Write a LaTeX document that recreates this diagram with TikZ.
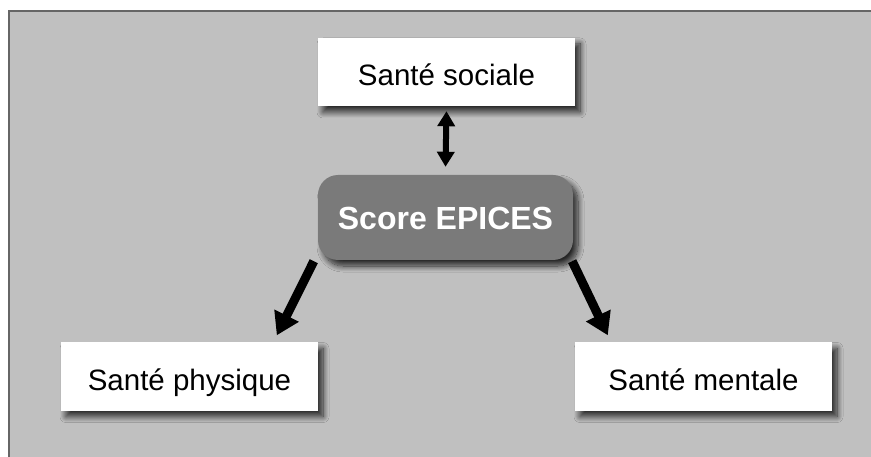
\documentclass[tikz,border=0pt]{standalone}
\usepackage{fontspec}
\setmainfont{Liberation Sans}
\usetikzlibrary{arrows.meta,shadows.blur}
\definecolor{panel}{RGB}{192,192,192}
\definecolor{scorefill}{RGB}{122,122,122}
\tikzset{
  softshadow/.style={blur shadow={shadow xshift=5pt, shadow yshift=-6pt,
    shadow blur steps=12, shadow blur radius=6pt, shadow opacity=80}},
  healthbox/.style={draw=none, fill=white, minimum width=257pt, minimum height=68pt,
    inner sep=0pt, text height=28pt, text depth=0pt,
    font=\fontsize{29.5}{32}\selectfont, softshadow},
  scorebox/.style={draw=none, fill=scorefill, rounded corners=20pt, minimum width=255pt,
    minimum height=85pt, inner sep=0pt, text height=25pt, text depth=0pt,
    text=white, font=\bfseries\fontsize{32}{36}\selectfont, softshadow},
  bigarrow/.style={line width=9pt, -{Triangle[width=26pt,length=22pt]}},
  dblarrow/.style={line width=6pt, {Triangle[width=17pt,length=15pt]}-{Triangle[width=17pt,length=15pt]}}
}
\begin{document}
\begin{tikzpicture}[x=1pt,y=-1pt]
\useasboundingbox (0,0) rectangle (871,457);
\fill[white] (0,0) rectangle (871,457);
\fill[panel] (9,11) rectangle (871,457);
\draw[black!60, line width=1.5pt] (871,11) -- (9,11) -- (9,457);
\node[healthbox] (soc) at (446.5,72) {Santé sociale};
\node[scorebox] (score) at (445.5,217.5) {Score EPICES};
\node[healthbox] (phy) at (189.5,376.5) {Santé physique};
\node[healthbox] (men) at (703.5,376.5) {Santé mentale};
\draw[dblarrow] ([yshift=-5pt]soc.south) -- ([yshift=8pt]score.north);
\draw[bigarrow] ([xshift=-4pt,yshift=-1pt]score.south west) -- ([xshift=216pt,yshift=7pt]phy.north west);
\draw[bigarrow] ([xshift=-1pt,yshift=-1pt]score.south east) -- ([xshift=33pt,yshift=7pt]men.north west);
\end{tikzpicture}
\end{document}
